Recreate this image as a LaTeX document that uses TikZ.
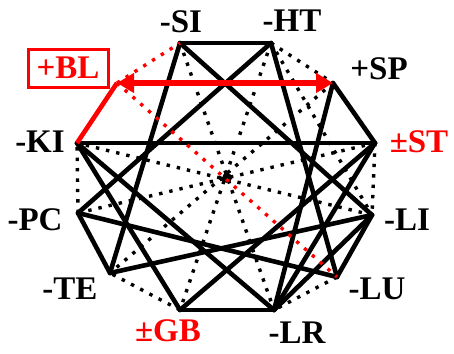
\documentclass[tikz,border=0pt]{standalone}
\usepackage{fontspec}
\setmainfont{Liberation Serif}
\usepackage{xcolor}
\usetikzlibrary{arrows.meta}

\begin{document}
\begin{tikzpicture}[x=1pt,y=-1pt,
    link/.style={draw=black,line width=4.6pt,line cap=round},
    dots/.style={draw=black,line width=3.4pt,dash pattern=on 3.4pt off 7pt},
    rdots/.style={dots,draw=red},
    lbl/.style={font=\fontsize{33}{33}\selectfont\bfseries,inner sep=0pt}]
    \useasboundingbox (0,0) rectangle (454,353);

    % vertices
    \coordinate (SI) at (180,43);
    \coordinate (HT) at (271,43);
    \coordinate (SP) at (333,83);
    \coordinate (ST) at (375,143);
    \coordinate (LI) at (372,215);
    \coordinate (LU) at (337,277);
    \coordinate (LR) at (274,310);
    \coordinate (GB) at (180,310);
    \coordinate (TE) at (110,273);
    \coordinate (PC) at (78,213);
    \coordinate (KI) at (77,143);
    \coordinate (BL) at (117,83);
    \coordinate (ctr) at (227,178);

    % labels
    \node[lbl] (lSI) at (181,22) {-SI};
    \node[lbl] (lHT) at (292,21) {-HT};
    \node[lbl] (lSP) at (379,69) {+SP};
    \node[lbl,text=red] (lST) at (419,142) {±ST};
    \node[lbl] (lLI) at (407,220) {-LI};
    \node[lbl] (lLU) at (377,289) {-LU};
    \node[lbl] (lLR) at (297,333) {-LR};
    \node[lbl,text=red] (lGB) at (168,331) {±GB};
    \node[lbl] (lTE) at (70,289) {-TE};
    \node[lbl] (lPC) at (35,220) {-PC};
    \node[lbl] (lKI) at (40,142) {-KI};
    \node[lbl,text=red,draw=red,line width=3pt,minimum width=80pt,minimum height=38pt] (lBL) at (68,68) {+BL};

    % dotted links
    \path[dots] (HT) edge (SP)
                (ST) edge (LI)
                (LU) edge (LR)
                (GB) edge (TE)
                (PC) edge (KI)
                (SI) edge (LR)
                (HT) edge (GB)
                (SP) edge (TE)
                (ST) edge (PC)
                (LI) edge (KI)
                (HT) edge (LI);

    % solid links
    \path[link] (SI) edge (HT)
                (SP) edge (ST)
                (LI) edge (LU)
                (LR) edge (GB)
                (TE) edge (PC)
                (KI) edge (ST)
                (SI) edge (TE)
                (SI) edge (LI)
                (LI) edge (TE)
                (HT) edge (PC)
                (HT) edge (LU)
                (PC) edge (LU)
                (SP) edge (LR)
                (LR) edge (KI)
                (LR) edge (LI)
                (LR) edge (ST)
                (KI) edge (GB)
                (GB) edge (ST);

    \fill (ctr) circle (5pt);

    % red links
    \path[rdots] (BL) edge (SI)
                 (BL) edge (LU);
    \draw[red,line width=4.6pt] (BL) -- (KI);
    \draw[red,line width=5.5pt,{Triangle[length=17pt,width=19pt]}-{Triangle[length=17pt,width=19pt]}] (BL) -- (SP);
\end{tikzpicture}
\end{document}
